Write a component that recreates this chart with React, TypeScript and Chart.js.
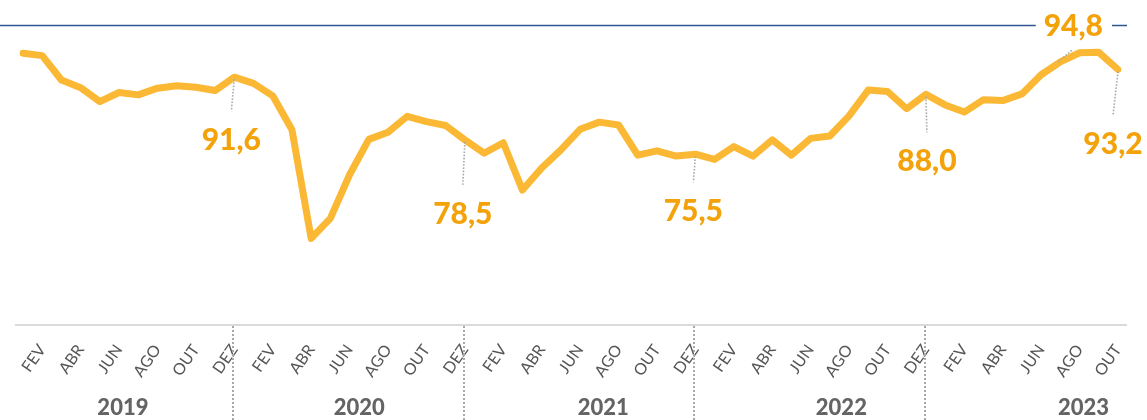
import React, { useEffect, useRef } from 'react';
import { Chart, registerables } from 'chart.js';

Chart.register(...registerables);

const months = ['JAN', 'FEV', 'MAR', 'ABR', 'MAI', 'JUN', 'JUL', 'AGO', 'SET', 'OUT', 'NOV', 'DEZ'];
const years = ['2019', '2020', '2021', '2022', '2023'];

const values2019 = [96.6, 96.1, 91.0, 89.4, 86.5, 88.4, 87.9, 89.3, 89.8, 89.5, 88.8, 91.6];
const values2020 = [90.3, 87.7, 80.6, 57.9, 62.1, 71.2, 78.6, 80.1, 83.4, 82.3, 81.5, 78.5];
const values2021 = [75.7, 77.9, 68.0, 72.6, 76.4, 80.7, 82.2, 81.6, 75.3, 76.2, 75.1, 75.5];
const values2022 = [74.4, 77.1, 75.1, 78.5, 75.3, 78.8, 79.3, 83.5, 88.9, 88.6, 85.0, 88.0];
const values2023 = [85.8, 84.3, 86.9, 86.7, 88.1, 92.1, 94.8, 96.7, 96.8, 93.2];

const highlighted = ['DEZ 2019', 'DEZ 2020', 'DEZ 2021', 'DEZ 2022', 'JUL 2023', 'OUT 2023'];

// label offsets (layout only) for each highlighted point
const annotationLayout = [
  { dx: -3, dy: 62 },
  { dx: -2, dy: 73 },
  { dx: -2, dy: 56 },
  { dx: 1, dy: 66 },
  { dx: 13, dy: -37 },
  { dx: -5, dy: 74 },
];
// year label centres, in month-index units
const yearCenters = [5.2, 17.5, 30.2, 42.6, 55.2];

const LINE_COLOR = '#FBB834';
const TEXT_ORANGE = '#F3A20A';

export default function App() {
  const ref = useRef<HTMLCanvasElement | null>(null);

  useEffect(() => {
    document.body.style.margin = '0';
    const series = [...values2019, ...values2020, ...values2021, ...values2022, ...values2023];
    const labels: string[] = [];
    const all = [values2019, values2020, values2021, values2022, values2023];
    all.forEach((arr, yi) => arr.forEach((_, mi) => labels.push(`${months[mi]} ${years[yi]}`)));

    const overlay = {
      id: 'overlay',
      afterDraw(chart: any) {
        const ctx = chart.ctx as CanvasRenderingContext2D;
        const xs = chart.scales.x;
        const ys = chart.scales.y;
        const area = chart.chartArea;
        ctx.save();
        // top rule
        ctx.strokeStyle = '#2F5597';
        ctx.lineWidth = 1.5;
        ctx.beginPath();
        ctx.moveTo(0, area.top + 0.5);
        ctx.lineTo(area.right + 9, area.top + 0.5);
        ctx.stroke();
        // baseline
        ctx.strokeStyle = '#DADADA';
        ctx.lineWidth = 2;
        ctx.beginPath();
        ctx.moveTo(area.left - 8, area.bottom);
        ctx.lineTo(area.right + 9, area.bottom);
        ctx.stroke();
        // year separators
        ctx.strokeStyle = '#A8A8A8';
        ctx.lineWidth = 2;
        ctx.setLineDash([2, 2]);
        labels.forEach((l, i) => {
          if (l.startsWith('DEZ')) {
            const x = Math.round(xs.getPixelForValue(i)) - 1;
            ctx.beginPath();
            ctx.moveTo(x, area.bottom + 1);
            ctx.lineTo(x, chart.height);
            ctx.stroke();
          }
        });
        ctx.setLineDash([]);
        // year labels
        ctx.fillStyle = '#646464';
        ctx.font = '900 22px Lato';
        ctx.textAlign = 'center';
        ctx.textBaseline = 'alphabetic';
        years.forEach((y, i) => {
          ctx.fillText(y, xs.getPixelForValue(yearCenters[i]), 415);
        });
        // annotations
        ctx.font = '900 30px Lato';
        ctx.textBaseline = 'middle';
        highlighted.forEach((key, k) => {
          const idx = labels.indexOf(key);
          const v = series[idx];
          const px = xs.getPixelForValue(idx);
          const py = ys.getPixelForValue(v);
          const { dx, dy } = annotationLayout[k];
          const lx = px + dx;
          const ly = py + dy;
          const text = v.toFixed(1).replace('.', ',');
          ctx.strokeStyle = '#A9A9A9';
          ctx.lineWidth = 1.6;
          ctx.setLineDash([1.6, 1.6]);
          ctx.beginPath();
          if (dy > 0) {
            ctx.moveTo(px, py + 2);
            ctx.lineTo(lx, ly - 28);
          } else {
            ctx.moveTo(px - 2, py);
            ctx.lineTo(px + 12, py - 12);
          }
          ctx.stroke();
          ctx.setLineDash([]);
          if (dy < 0) {
            const w = ctx.measureText(text).width;
            ctx.fillStyle = '#FFFFFF';
            ctx.fillRect(lx - w / 2 - 8, ly - 6, w + 17, 12);
          }
          ctx.fillStyle = TEXT_ORANGE;
          ctx.fillText(text, lx, ly + 1);
        });
        ctx.restore();
      },
    };

    const chart = new Chart(ref.current as HTMLCanvasElement, {
      type: 'line',
      data: {
        labels,
        datasets: [
          {
            data: series,
            borderColor: LINE_COLOR,
            borderWidth: 7,
            borderCapStyle: 'round',
            borderJoinStyle: 'round',
            pointRadius: 0,
            tension: 0,
            fill: false,
          },
        ],
      },
      options: {
        responsive: false,
        animation: false,
        layout: { padding: { left: 23, right: 29, top: 25, bottom: 0 } },
        plugins: { legend: { display: false }, tooltip: { enabled: false } },
        scales: {
          x: {
            offset: false,
            grid: { display: false, drawTicks: false },
            border: { display: false },
            afterFit: (s: any) => {
              s.height = 95;
              s.paddingLeft = 0;
              s.paddingRight = 0;
            },
            ticks: {
              autoSkip: false,
              maxRotation: 55,
              minRotation: 55,
              padding: 16,
              color: '#555555',
              font: { family: 'Lato', size: 16 },
              callback: (_v: any, i: number) => (i % 2 === 1 ? months[i % 12] : ''),
            },
          },
          y: {
            display: false,
            min: 39.8,
            max: 102.5,
          },
        },
      },
      plugins: [overlay],
    });
    return () => chart.destroy();
  }, []);

  return (
    <div style={{ width: 1147, height: 420 }}>
      <canvas ref={ref} width={1147} height={420} />
    </div>
  );
}
